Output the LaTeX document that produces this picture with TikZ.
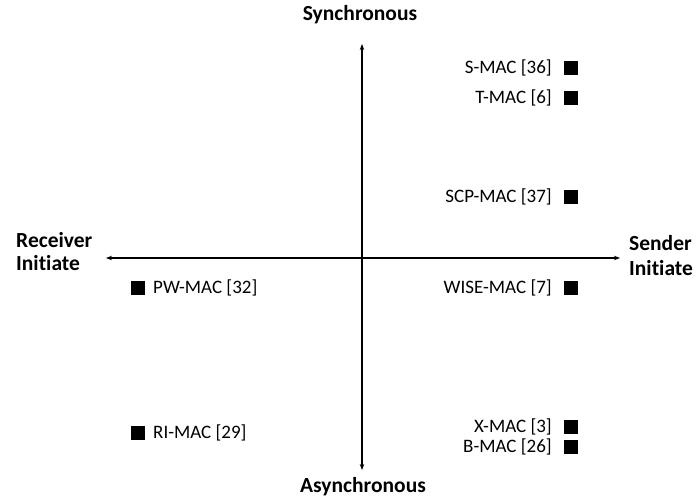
\documentclass[tikz,border=0pt]{standalone}
\usepackage{fontspec}
\setmainfont{Carlito}[Ligatures={NoCommon}]
\usetikzlibrary{arrows.meta}
\begin{document}
\begin{tikzpicture}[x=1pt,y=-1pt,
  axis/.style={line width=1.1pt,-{Stealth[length=6pt,width=4.5pt]}},
  title/.style={font=\fontsize{21.5}{24}\selectfont\bfseries,inner sep=0pt},
  lab/.style={font=\fontsize{19}{21}\selectfont,inner sep=0pt},
  sq/.style={fill=black,minimum size=14pt,inner sep=0pt}]
\useasboundingbox (0,0) rectangle (698,502);
\coordinate (c) at (362,258);
\coordinate (top) at (362,44);
\coordinate (bot) at (362,470);
\coordinate (left) at (106,258);
\coordinate (right) at (620,258);
\draw[axis] (c) -- (top);
\draw[axis] (c) -- (bot);
\draw[axis] (c) -- (left);
\draw[axis] (c) -- (right);
\node[title,anchor=base] (sync) at (360,21) {Synchronous};
\node[title,anchor=base] (async) at (363,492) {Asynchronous};
\node[title,anchor=base west] (recv1) at (16,248) {Receiver};
\node[title,anchor=base west] (recv2) at (16,271) {Initiate};
\node[title,anchor=base west] (send1) at (629,251) {Sender};
\node[title,anchor=base west] (send2) at (629,276) {Initiate};
% right side
\node[sq] (s1) at (571,68) {};
\node[lab,anchor=east] (l1) at (552,68) {S-MAC [36]};
\node[sq] (s2) at (571,98) {};
\node[lab,anchor=east] (l2) at (552,98) {T-MAC [6]};
\node[sq] (s3) at (571,197) {};
\node[lab,anchor=east] (l3) at (552,197) {SCP-MAC [37]};
\node[sq] (s4) at (571,288) {};
\node[lab,anchor=east] (l4) at (552,288) {WISE-MAC [7]};
\node[sq] (s5) at (571,427) {};
\node[lab,anchor=east] (l5) at (552,427) {X-MAC [3]};
\node[sq] (s6) at (571,447) {};
\node[lab,anchor=east] (l6) at (552,447) {B-MAC [26]};
% left side
\node[sq] (s7) at (138,288) {};
\node[lab,anchor=west] (l7) at (153,288) {PW-MAC [32]};
\node[sq] (s8) at (138,433) {};
\node[lab,anchor=west] (l8) at (153,433) {RI-MAC [29]};
\end{tikzpicture}
\end{document}
